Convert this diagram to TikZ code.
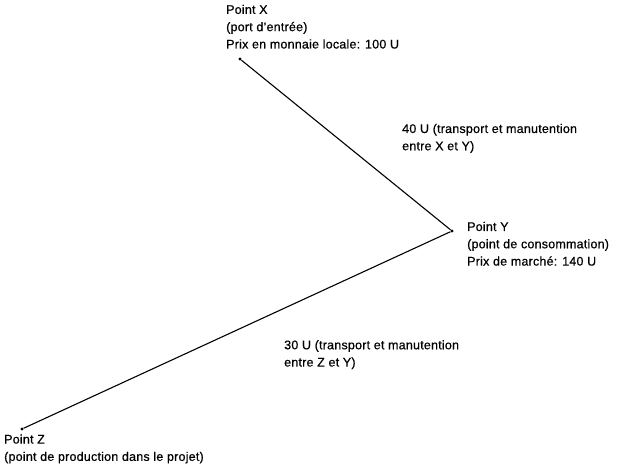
\documentclass[tikz,border=0pt]{standalone}
\usepackage{fontspec}
\setmainfont{Liberation Sans}[LetterSpace=1.7,FakeBold=0.6]
\begin{document}
\begin{tikzpicture}[x=1pt,y=-1pt,
  lbl/.style={anchor=north west,inner sep=0pt,align=left,
    font=\fontsize{12.5}{17.3}\selectfont},
  pt/.style={circle,fill=black,inner sep=0pt,minimum size=3.2pt},
  seg/.style={line width=1.1pt}]
\useasboundingbox (0,0) rectangle (625,475);
\node[pt] (X) at (240,59) {};
\node[pt] (Y) at (452,231) {};
\node[pt] (Z) at (22,429) {};
\draw[seg] (X) -- (Y) -- (Z);
\node[lbl] (lx) at (226,4.6) {Point X\\(port d'entrée)\\Prix en monnaie locale: 100 U};
\node[lbl] (ly) at (467,221.7) {Point Y\\(point de consommation)\\Prix de marché: 140 U};
\node[lbl] (lz) at (4,434.3) {Point Z\\(point de production dans le projet)};
\node[lbl] (lxy) at (402,123.7) {40 U (transport et manutention\\entre X et Y)};
\node[lbl] (lzy) at (284,340) {30 U (transport et manutention\\entre Z et Y)};
\end{tikzpicture}
\end{document}
